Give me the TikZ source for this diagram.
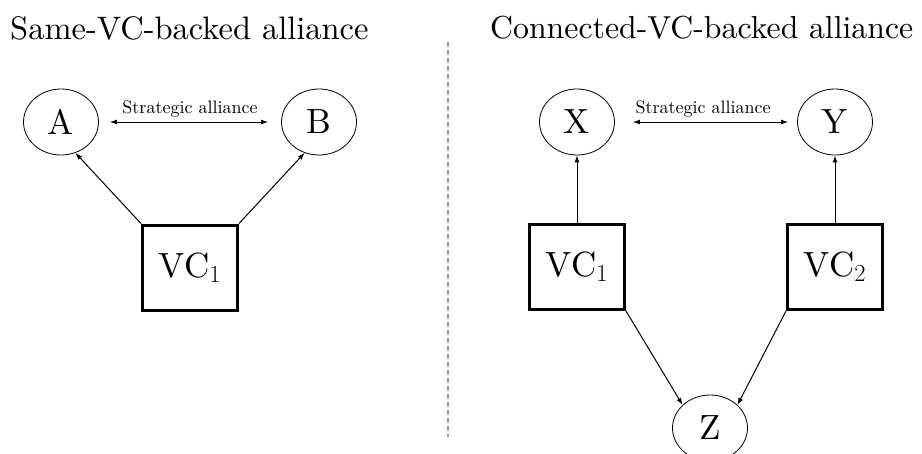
\documentclass[tikz,border=0pt]{standalone}
\usepackage{fix-cm}
\usepackage{fontspec}
\setmainfont{lmroman10-regular}[Extension=.otf, BoldFont=lmroman10-bold, ItalicFont=lmroman10-italic]
\usetikzlibrary{arrows.meta,shapes.geometric}
\begin{document}
\begin{tikzpicture}[x=1pt,y=-1pt,
  title/.style={font=\fontsize{32.5}{38}\selectfont, anchor=base west, inner sep=0pt},
  firm/.style={ellipse, draw, line width=0.8pt, minimum width=75pt, minimum height=66pt, inner sep=0pt, font=\fontsize{35}{40}\selectfont},
  vcbox/.style={rectangle, draw, line width=3pt, minimum width=95pt, minimum height=85pt, inner sep=0pt, font=\fontsize{35}{40}\selectfont},
  link/.style={line width=1pt, -{Latex[length=7pt,width=5pt]}},
  ally/.style={line width=1pt, {Latex[length=7pt,width=5pt]}-{Latex[length=7pt,width=5pt]}},
  lbl/.style={font=\fontsize{18}{22}\selectfont, inner sep=0pt},
  divider/.style={draw=black!40, line width=1.5pt, dash pattern=on 5pt off 3pt}]
\useasboundingbox (0,0) rectangle (922,453);
\clip (0,0) rectangle (922,453);

% titles
\node[title] (t1) at (10,39) {Same-VC-backed alliance};
\node[title, font=\fontsize{31.8}{38}\selectfont] (t2) at (490,38) {Connected-VC-backed alliance};

% divider
\coordinate (d1) at (448,42);
\coordinate (d2) at (448,437);
\draw[divider] (d1) -- (d2);

% left diagram
\node[firm] (A) at (61,122) {A};
\node[firm] (B) at (319,122) {B};
\node[vcbox] (V) at (190,267.5) {VC$_1$};
\draw[ally, shorten <=11pt, shorten >=13pt] (A) -- (B)
  node[lbl, midway, above=4.5pt] (l1) {Strategic alliance};
\draw[link] (V.north west) -- (A.-65);
\draw[link] (V.north east) -- (B.-115);

% right diagram
\node[firm] (X) at (577,122) {X};
\node[firm] (Y) at (835,122) {Y};
\node[firm] (Z) at (710,428) {Z};
\node[vcbox] (V1) at (577,267) {VC$_1$};
\node[vcbox] (V2) at (835,267) {VC$_2$};
\draw[ally, shorten <=18pt, shorten >=9pt] (X) -- (Y)
  node[lbl, pos=0.484, above=4.5pt] (l2) {Strategic alliance};
\draw[link] (V1.north) -- (X.south);
\draw[link] (V2.north) -- (Y.south);
\draw[link] (V1.south east) -- (Z.140);
\draw[link] (V2.south west) -- (Z.40);
\end{tikzpicture}
\end{document}
